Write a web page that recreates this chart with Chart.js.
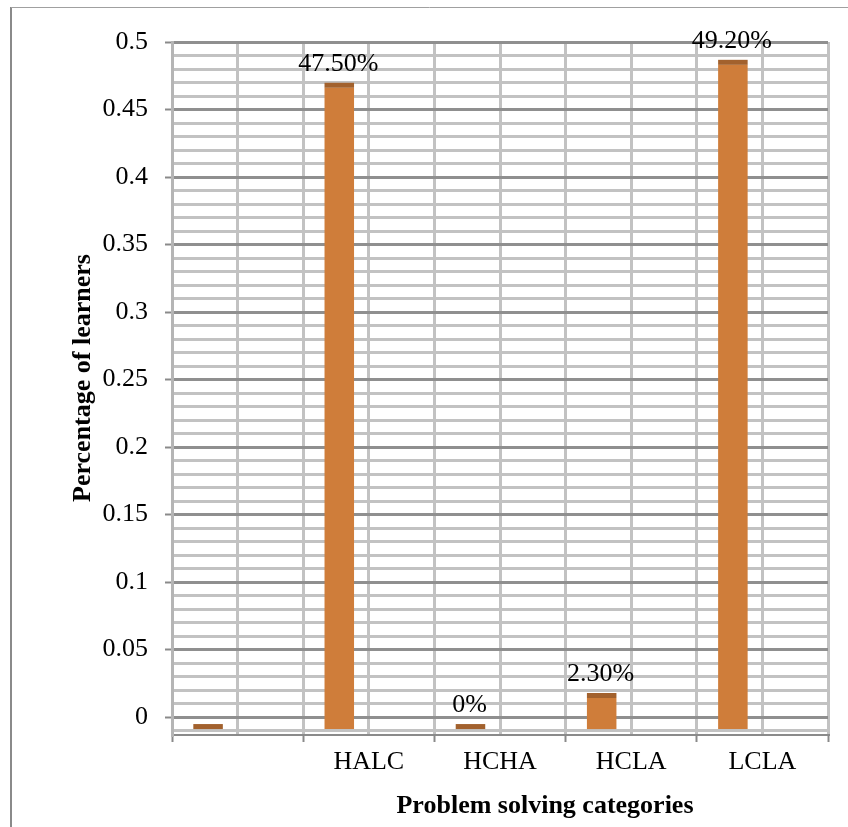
<!DOCTYPE html>
<html>
<head>
<meta charset="utf-8">
<title>Problem solving categories</title>
<script src="https://cdn.jsdelivr.net/npm/chart.js@4.4.1/dist/chart.umd.min.js"></script>
<style>
  html, body { margin: 0; padding: 0; background: #fff; }
  canvas { display: block; }
</style>
</head>
<body>
<canvas id="grafico" width="848" height="827"></canvas>
<script>
// ====== Datos ======
const categories = ['', 'HALC', 'HCHA', 'HCLA', 'LCLA'];
const learnerShare = [0, 0.475, 0, 0.023, 0.492];
const barLabels = ['', '47.50%', '0%', '2.30%', '49.20%'];
const yTickValues = [0, 0.05, 0.1, 0.15, 0.2, 0.25, 0.3, 0.35, 0.4, 0.45, 0.5];

// ====== Estilo ======
const fontFamily = "'Liberation Serif', 'Times New Roman', serif";
const barColor = '#cf7d3a';
const capColor = '#a2612d';
const majorGrid = '#8f8f8f';
const minorGrid = '#c2c2c2';
const axisGray = '#8a8a8a';

// the back wall goes a bit below zero (3D floor), bars stand in front of it
const yMin = -0.0133;
const yMax = 0.5;
const floorDepth = 0.0089;
const capHeight = 5;

// ====== Plugin: marco, títulos, tapas y etiquetas ======
const decoracion = {
  id: 'decoracion',
  beforeDraw(chart) {
    const ctx = chart.ctx;
    ctx.save();
    ctx.fillStyle = '#fff';
    ctx.fillRect(0, 0, chart.width, chart.height);
    ctx.strokeStyle = axisGray;
    ctx.lineWidth = 2;
    ctx.beginPath();
    ctx.moveTo(11, chart.height);
    ctx.lineTo(11, 7);
    ctx.stroke();
    ctx.lineWidth = 1;
    ctx.strokeStyle = '#a0a0a0';
    ctx.beginPath();
    ctx.moveTo(11, 7.5);
    ctx.lineTo(chart.width, 7.5);
    ctx.stroke();
    ctx.restore();
  },
  afterDatasetsDraw(chart) {
    const ctx = chart.ctx;
    const meta = chart.getDatasetMeta(0);
    ctx.save();
    ctx.font = '26px ' + fontFamily;
    ctx.textAlign = 'center';
    ctx.textBaseline = 'alphabetic';
    meta.data.forEach((bar, i) => {
      const { x, y, width } = bar.getProps(['x', 'y', 'width'], true);
      ctx.fillStyle = capColor;
      ctx.fillRect(x - width / 2, y - capHeight, width, capHeight);
      ctx.fillStyle = '#000';
      ctx.fillText(barLabels[i], x - 1, y - capHeight - 12);
    });
    ctx.restore();
  },
  afterDraw(chart) {
    const ctx = chart.ctx;
    ctx.save();
    ctx.fillStyle = '#000';
    ctx.font = 'bold 26px ' + fontFamily;
    ctx.textAlign = 'center';
    ctx.textBaseline = 'alphabetic';
    ctx.fillText('Problem solving categories', 545, 813);
    ctx.translate(90, 378);
    ctx.rotate(-Math.PI / 2);
    ctx.fillText('Percentage of learners', 0, 0);
    ctx.restore();
  }
};

// ====== Gráfico ======
const ctx = document.getElementById('grafico').getContext('2d');
const grafico = new Chart(ctx, {
  type: 'bar',
  data: {
    labels: categories,
    datasets: [{
      label: 'Percentage of learners',
      data: learnerShare,
      backgroundColor: barColor,
      borderWidth: 0,
      xAxisID: 'x',
      yAxisID: 'yBar'
    }, {
      // empty series: keeps the bars in the front half of each slot like the 3D original
      label: '',
      data: categories.map(() => null),
      xAxisID: 'x',
      yAxisID: 'yBar'
    }]
  },
  options: {
    responsive: false,
    animation: false,
    categoryPercentage: 0.9,
    barPercentage: 0.5,
    layout: { padding: { top: 42, right: 20, bottom: 0, left: 0 } },
    plugins: {
      legend: { display: false },
      tooltip: { enabled: false }
    },
    scales: {
      x: {
        type: 'category',
        position: 'bottom',
        offset: true,
        grid: { offset: true, color: minorGrid, lineWidth: 3, tickColor: axisGray, tickLength: 7, tickWidth: 2 },
        border: { color: axisGray, width: 2 },
        ticks: { color: '#000', font: { family: fontFamily, size: 26 }, padding: 5, maxRotation: 0, autoSkip: false },
        afterFit: (s) => { s.height = 92; }
      },
      xMid: {
        type: 'category',
        position: 'bottom',
        offset: true,
        grid: { offset: false, color: minorGrid, lineWidth: 3, drawTicks: false },
        border: { display: false },
        ticks: { display: false },
        afterFit: (s) => { s.height = 0; }
      },
      y: {
        position: 'left',
        min: yMin,
        max: yMax,
        afterBuildTicks: (s) => { s.ticks = yTickValues.map(v => ({ value: v })); },
        grid: { color: majorGrid, lineWidth: 3, tickColor: axisGray, tickLength: 7, tickWidth: 2 },
        border: { color: '#b5b5b5', width: 3 },
        ticks: {
          color: '#000',
          font: { family: fontFamily, size: 26 },
          padding: 17,
          callback: (v) => String(parseFloat(Number(v).toFixed(2)))
        },
        afterFit: (s) => { s.width = 172; }
      },
      yMinor: {
        position: 'right',
        min: yMin,
        max: yMax,
        ticks: { display: false, stepSize: 0.01, includeBounds: false },
        grid: {
          drawTicks: false,
          lineWidth: 3,
          color: (c) => (Math.round(c.tick.value * 100) % 5 === 0 ? 'rgba(0,0,0,0)' : minorGrid)
        },
        border: { display: false },
        afterFit: (s) => { s.width = 0; }
      },
      yBar: {
        display: false,
        min: yMin + floorDepth,
        max: yMax + floorDepth
      }
    }
  },
  plugins: [decoracion]
});
</script>
</body>
</html>
